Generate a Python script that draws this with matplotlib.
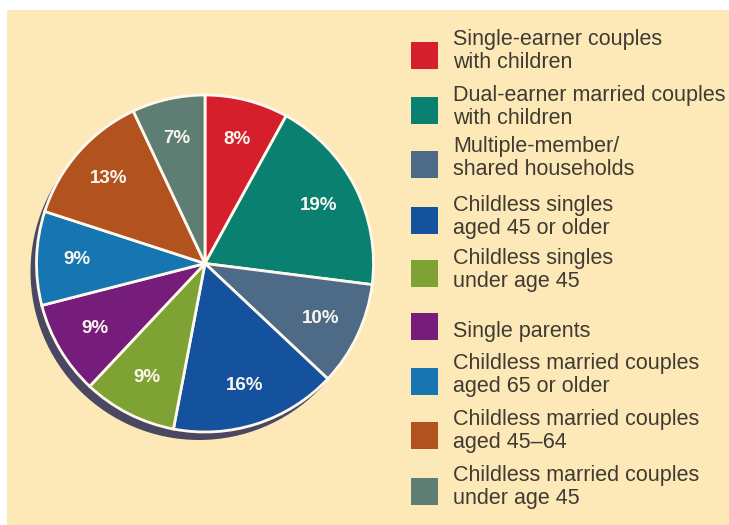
import matplotlib
matplotlib.use("Agg")
import matplotlib.pyplot as plt
from matplotlib.patches import Rectangle, Circle

categories = [
    "Single-earner couples\nwith children",
    "Dual-earner married couples\nwith children",
    "Multiple-member/\nshared households",
    "Childless singles\naged 45 or older",
    "Childless singles\nunder age 45",
    "Single parents",
    "Childless married couples\naged 65 or older",
    "Childless married couples\naged 45\u201264",
    "Childless married couples\nunder age 45",
]
shares = [8, 19, 10, 16, 9, 9, 9, 13, 7]
colors = ["#D61F2C", "#0A8070", "#4D6A87", "#15529E", "#7EA334",
          "#761D7B", "#1776B2", "#B2531F", "#5E7E73"]

W, H = 729, 525
fig = plt.figure(figsize=(W / 100, H / 100), dpi=100)
fig.patch.set_facecolor("white")
ax = fig.add_axes([0, 0, 1, 1])

# cream panel
ax.add_patch(Rectangle((7, 0), W - 7, H - 10, facecolor="#FDE8B8",
                       edgecolor="none", zorder=0))

cx, cy, r = 205, 261.5, 168.5
# drop shadow behind the pie
ax.add_patch(Circle((cx - 6, cy - 8), r, facecolor="#4A4762",
                    edgecolor="none", zorder=1))

wedges, texts, autotexts = ax.pie(
    shares, colors=colors, startangle=90, counterclock=False,
    center=(cx, cy), radius=r, autopct=lambda p: f"{p:.0f}%",
    pctdistance=0.76, frame=True,
    wedgeprops=dict(edgecolor="#FFF8EC", linewidth=2),
    textprops=dict(color="#FBF6F0", fontsize=13.5, fontweight="bold",
                   family="Liberation Sans"))
for w in wedges:
    w.set_zorder(2)
for t in autotexts:
    t.set_zorder(3)
ax.set_xlim(0, W)
ax.set_ylim(0, H)
ax.set_aspect("equal")
ax.axis("off")

# legend: swatches and labels (one text per line, baseline positioned)
first_baselines = [45, 101, 152, 211, 264, 337, 369, 425, 481]
swatch_centers = [55, 110, 164, 220, 273, 326, 381, 435, 491]
line_gap = 23
for lab, col, base, sc in zip(categories, colors, first_baselines, swatch_centers):
    ax.add_patch(Rectangle((411, H - sc - 13.5), 27, 27, facecolor=col,
                           edgecolor="none", zorder=2))
    for i, line in enumerate(lab.split("\n")):
        ax.text(453, H - base - i * line_gap, line, ha="left", va="baseline",
                fontsize=15.5, color="#3F3A32", family="Liberation Sans")

fig.savefig("out.png", dpi=100, facecolor=fig.get_facecolor())
